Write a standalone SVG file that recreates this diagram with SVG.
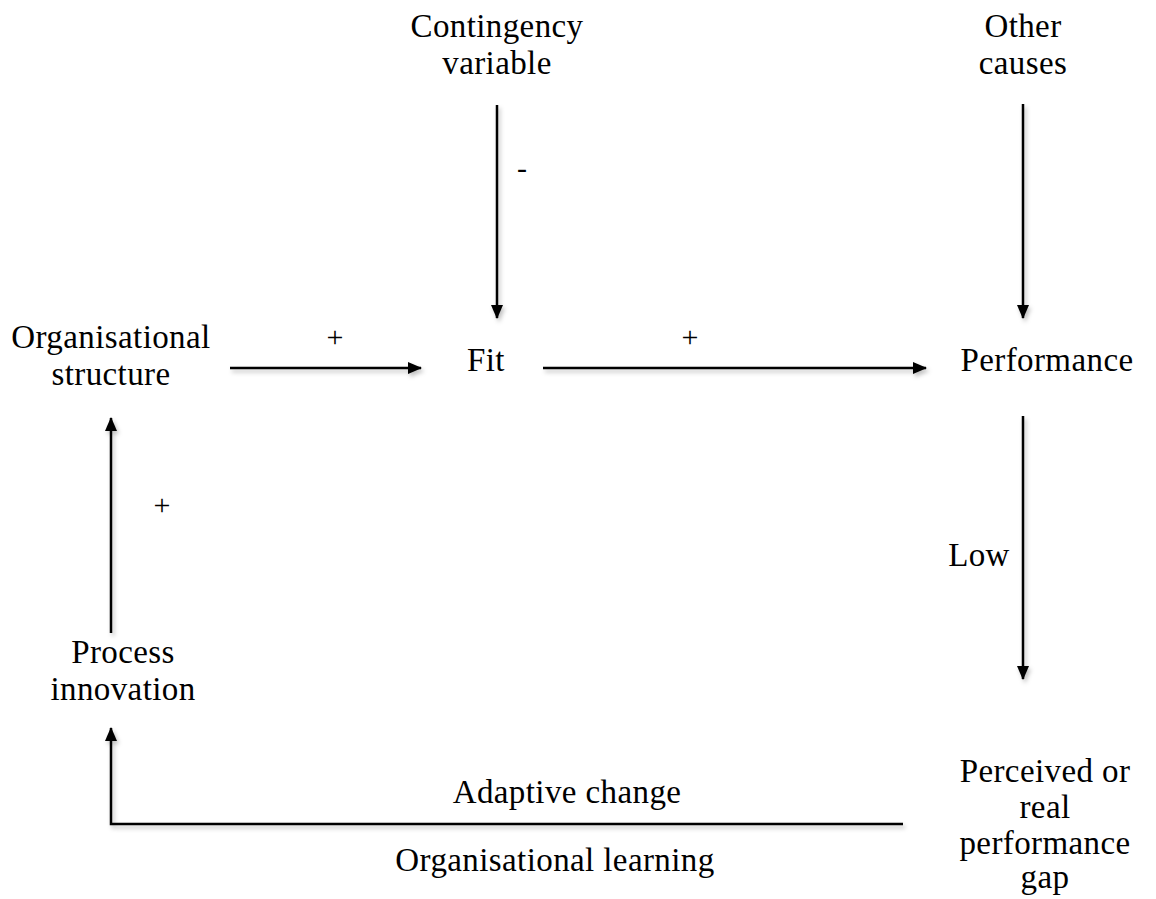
<svg xmlns="http://www.w3.org/2000/svg" width="1156" height="899" viewBox="0 0 1156 899">
  <style>
    text { font-family: "Liberation Serif", "DejaVu Serif", serif; font-size: 33px; letter-spacing: 0.4px; fill: #000; text-anchor: middle; }
    .sign { font-size: 30px; letter-spacing: 0; }
    .conn { fill: none; stroke: #000; stroke-width: 2.5; marker-end: url(#head); }
  </style>
  <defs>
    <marker id="head" viewBox="0 0 14 12" refX="13" refY="6" markerWidth="14" markerHeight="12" markerUnits="userSpaceOnUse" orient="auto">
      <path d="M0,0 L14,6 L0,12 Z" fill="#000"/>
    </marker>
    <filter id="shadow" x="-20%" y="-20%" width="140%" height="140%">
      <feDropShadow dx="2" dy="3" stdDeviation="2" flood-color="#000" flood-opacity="0.25"/>
    </filter>
  </defs>
  <rect width="1156" height="899" fill="#fff"/>

  <g id="connectors" filter="url(#shadow)">
    <path class="conn" d="M497,105 V318"/>
    <path class="conn" d="M1023,104 V318"/>
    <path class="conn" d="M230,368 H421"/>
    <path class="conn" d="M543,368 H926"/>
    <path class="conn" d="M1023,416 V679"/>
    <path class="conn" d="M111,633 V418"/>
    <path class="conn" d="M903,824 H111 V728"/>
  </g>

  <g id="contingency">
    <text x="497" y="37">Contingency</text>
    <text x="497" y="74">variable</text>
  </g>
  <g id="other-causes">
    <text x="1023" y="37">Other</text>
    <text x="1023" y="74">causes</text>
  </g>
  <g id="org-structure">
    <text x="111" y="348">Organisational</text>
    <text x="111" y="385">structure</text>
  </g>
  <g id="fit">
    <text x="486" y="371">Fit</text>
  </g>
  <g id="performance">
    <text x="1047" y="371">Performance</text>
  </g>
  <g id="process-innovation">
    <text x="123" y="663">Process</text>
    <text x="123" y="700">innovation</text>
  </g>
  <g id="performance-gap">
    <text x="1045" y="782">Perceived or</text>
    <text x="1045" y="818">real</text>
    <text x="1045" y="854">performance</text>
    <text x="1045" y="888">gap</text>
  </g>

  <g id="labels">
    <text class="sign" x="522" y="178">-</text>
    <text class="sign" x="335" y="347">+</text>
    <text class="sign" x="690" y="347">+</text>
    <text class="sign" x="162" y="515">+</text>
    <text x="979" y="566">Low</text>
    <text x="567" y="803">Adaptive change</text>
    <text x="555" y="871">Organisational learning</text>
  </g>
</svg>
